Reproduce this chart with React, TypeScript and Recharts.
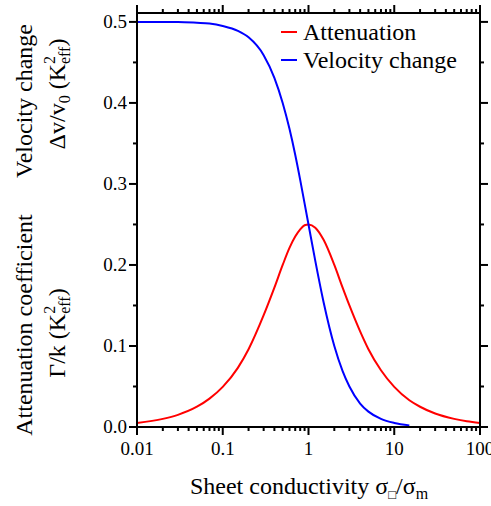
import { LineChart, Line, XAxis, YAxis } from 'recharts';

// sheet conductivity sigma/sigma_m (log axis)
const conductivity = [0.01, 0.02, 0.03, 0.05, 0.07, 0.1, 0.15, 0.2, 0.3, 0.4, 0.5, 0.6, 0.7, 0.8, 0.9, 1, 1.2, 1.5, 2, 2.5, 3, 4, 5, 7, 10, 15, 20, 30, 50, 70, 100];
const attenuation = [0.005, 0.01, 0.015, 0.025, 0.035, 0.0495, 0.073, 0.096, 0.138, 0.172, 0.2, 0.221, 0.235, 0.244, 0.249, 0.25, 0.246, 0.231, 0.2, 0.172, 0.15, 0.118, 0.096, 0.07, 0.0495, 0.033, 0.025, 0.0166, 0.01, 0.007, 0.005];
// blue curve stops near 15
const velocityChange = [0.5, 0.5, 0.5, 0.499, 0.498, 0.495, 0.489, 0.481, 0.459, 0.431, 0.4, 0.368, 0.336, 0.305, 0.276, 0.25, 0.205, 0.154, 0.1, 0.069, 0.05, 0.029, 0.019, 0.01, 0.005, 0.002];

const xMajor = [0.01, 0.1, 1, 10, 100];
const xMajorLabels = ['0.01', '0.1', '1', '10', '100'];
const xMinor = [0.02, 0.03, 0.04, 0.05, 0.06, 0.07, 0.08, 0.09, 0.2, 0.3, 0.4, 0.5, 0.6, 0.7, 0.8, 0.9, 2, 3, 4, 5, 6, 7, 8, 9, 20, 30, 40, 50, 60, 70, 80, 90];
const yMajor = [0, 0.1, 0.2, 0.3, 0.4, 0.5];
const yMajorLabels = ['0.0', '0.1', '0.2', '0.3', '0.4', '0.5'];
const yMinor = [0.05, 0.15, 0.25, 0.35, 0.45];

const data = conductivity.map((x, i) => ({
  x,
  attenuation: attenuation[i],
  velocity: i < velocityChange.length ? velocityChange[i] : null,
}));

const FONT = '"Liberation Serif", "Times New Roman", serif';
const xTicks = [...xMajor, ...xMinor].sort((a, b) => a - b);
const yTicks = [...yMajor, ...yMinor].sort((a, b) => a - b);

const isMajor = (list: number[], v: number) => list.some((m) => Math.abs(m - v) < 1e-9);

function makeXTick(dir: 1 | -1, labels: boolean) {
  return (props: any) => {
    const { x, y, payload } = props;
    const major = isMajor(xMajor, payload.value);
    const idx = xMajor.findIndex((m) => Math.abs(m - payload.value) < 1e-9);
    return (
      <g>
        <line x1={x} x2={x} y1={y} y2={y + dir * (major ? 8 : 4)} stroke="#000" strokeWidth={2} />
        {labels && major && (
          <text x={x} y={y + 28} textAnchor="middle" fontSize={19} fontFamily={FONT} fill="#000">
            {xMajorLabels[idx]}
          </text>
        )}
      </g>
    );
  };
}

function makeYTick(dir: 1 | -1, labels: boolean) {
  return (props: any) => {
    const { x, y, payload } = props;
    const major = isMajor(yMajor, payload.value);
    const idx = yMajor.findIndex((m) => Math.abs(m - payload.value) < 1e-9);
    return (
      <g>
        <line x1={x} x2={x + dir * (major ? 8 : 4)} y1={y} y2={y} stroke="#000" strokeWidth={2} />
        {labels && major && (
          <text x={x - 10} y={y + 6} textAnchor="end" fontSize={19} fontFamily={FONT} fill="#000">
            {yMajorLabels[idx]}
          </text>
        )}
      </g>
    );
  };
}

export default function App() {
  return (
    <div style={{ position: 'absolute', left: 0, top: 0 }}>
      <LineChart width={491} height={506} data={data} margin={{ top: 12, right: 10, bottom: 78, left: 136 }}>
        <XAxis
          dataKey="x"
          type="number"
          scale="log"
          domain={[0.01, 100]}
          allowDataOverflow
          ticks={xTicks}
          interval={0}
          height={1}
          tickSize={0}
          tickMargin={0}
          tick={makeXTick(1, true)}
          axisLine={{ stroke: '#000', strokeWidth: 2 }}
        />
        <XAxis
          xAxisId="top"
          orientation="top"
          dataKey="x"
          type="number"
          scale="log"
          domain={[0.01, 100]}
          allowDataOverflow
          ticks={xTicks}
          interval={0}
          height={1}
          tickSize={0}
          tickMargin={0}
          tick={makeXTick(-1, false)}
          axisLine={{ stroke: '#000', strokeWidth: 2 }}
        />
        <YAxis
          type="number"
          domain={[0, 0.511]}
          allowDataOverflow
          ticks={yTicks}
          interval={0}
          width={1}
          tickSize={0}
          tickMargin={0}
          tick={makeYTick(-1, true)}
          axisLine={{ stroke: '#000', strokeWidth: 2 }}
        />
        <YAxis
          yAxisId="right"
          orientation="right"
          type="number"
          domain={[0, 0.511]}
          allowDataOverflow
          ticks={yTicks}
          interval={0}
          width={1}
          tickSize={0}
          tickMargin={0}
          tick={makeYTick(1, false)}
          axisLine={{ stroke: '#000', strokeWidth: 2 }}
        />
        <Line type="monotone" dataKey="attenuation" stroke="#ff0000" strokeWidth={2} dot={false} isAnimationActive={false} />
        <Line type="monotone" dataKey="velocity" stroke="#0000ff" strokeWidth={2} dot={false} isAnimationActive={false} />
        <g fontFamily={FONT} fill="#000">
          {/* legend */}
          <line x1={281} x2={297} y1={32} y2={32} stroke="#ff0000" strokeWidth={2} />
          <text x={303} y={40} fontSize={24}>Attenuation</text>
          <line x1={281} x2={297} y1={60} y2={60} stroke="#0000ff" strokeWidth={2} />
          <text x={303} y={68} fontSize={24}>Velocity change</text>
          {/* y titles */}
          <text transform="translate(32,101) rotate(-90)" textAnchor="middle" fontSize={24}>Velocity change</text>
          <text transform="translate(65,94) rotate(-90)" textAnchor="middle" fontSize={24}>
            Δv/v<tspan fontSize={16} dy={5}>0</tspan>
            <tspan dy={-5}> (K</tspan>
            <tspan fontSize={16} dy={-10}>2</tspan>
            <tspan fontSize={16} dx={-8} dy={15}>eff</tspan>
            <tspan dy={-5}>)</tspan>
          </text>
          <text transform="translate(32,325) rotate(-90)" textAnchor="middle" fontSize={24}>Attenuation coefficient</text>
          <text transform="translate(65,333) rotate(-90)" textAnchor="middle" fontSize={24}>
            Γ/k (K<tspan fontSize={16} dy={-10}>2</tspan>
            <tspan fontSize={16} dx={-8} dy={15}>eff</tspan>
            <tspan dy={-5}>)</tspan>
          </text>
          {/* x title */}
          <text x={309} y={494} textAnchor="middle" fontSize={24}>
            Sheet conductivity σ<tspan fontSize={13} dy={5}>□</tspan>
            <tspan dy={-5}>/σ</tspan>
            <tspan fontSize={16} dy={5}>m</tspan>
          </text>
        </g>
      </LineChart>
    </div>
  );
}
